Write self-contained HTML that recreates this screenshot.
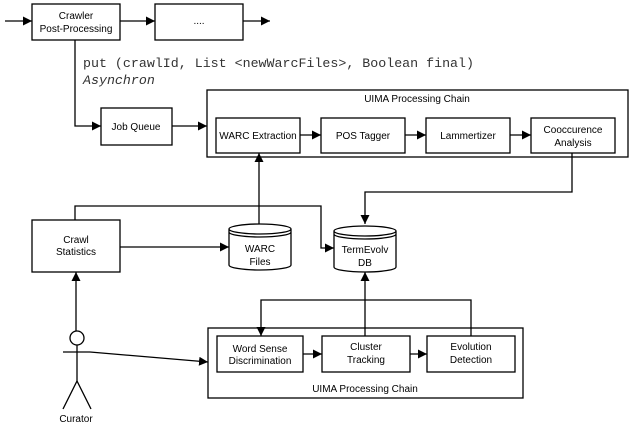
<!DOCTYPE html>
<html><head><meta charset="utf-8"><style>body{margin:0;background:#fff}svg{display:block}</style></head><body>
<svg width="630" height="430" viewBox="0 0 630 430" xmlns="http://www.w3.org/2000/svg" font-family="Liberation Sans, sans-serif" font-size="10" fill="none" stroke="#000">
<defs><marker id="a" viewBox="0 0 10 10" refX="10" refY="5" markerWidth="9" markerHeight="9" markerUnits="userSpaceOnUse" orient="auto"><path d="M0,0L10,5L0,10z" fill="#000" stroke="none"/></marker></defs>
<g stroke-width="1.3">
<rect x="32" y="4" width="88" height="36"/>
<rect x="155" y="4" width="88" height="36"/>
<line x1="5" y1="21" x2="32" y2="21" marker-end="url(#a)"/>
<line x1="120" y1="21" x2="155" y2="21" marker-end="url(#a)"/>
<line x1="243" y1="21" x2="270" y2="21" marker-end="url(#a)"/>
<polyline points="75,40 75,126 101,126" marker-end="url(#a)"/>
<rect x="101" y="108" width="71" height="37"/>
<line x1="172" y1="126" x2="207" y2="126" marker-end="url(#a)"/>
<rect x="207" y="90" width="421" height="67"/>
<rect x="216" y="118" width="84" height="35"/>
<rect x="321" y="118" width="84" height="35"/>
<rect x="426" y="118" width="84" height="35"/>
<rect x="531" y="118" width="84" height="35"/>
<line x1="300" y1="135" x2="321" y2="135" marker-end="url(#a)"/>
<line x1="405" y1="135" x2="426" y2="135" marker-end="url(#a)"/>
<line x1="510" y1="135" x2="531" y2="135" marker-end="url(#a)"/>
<polyline points="572,153 572,192 365,192 365,224" marker-end="url(#a)"/>
<rect x="32" y="220" width="88" height="52"/>
<polyline points="75,220 75,206 321,206 321,248 334,248" marker-end="url(#a)"/>
<line x1="120" y1="247" x2="229" y2="247" marker-end="url(#a)"/>
<line x1="259" y1="224" x2="259" y2="153" marker-end="url(#a)"/>
<path d="M229,229 v36 a31,5 0 0 0 62,0 v-36 a31,5 0 0 0 -62,0 a31,5 0 0 0 62,0 M229,232 a31,5 0 0 0 62,0"/>
<path d="M334,231 v36 a31,5 0 0 0 62,0 v-36 a31,5 0 0 0 -62,0 a31,5 0 0 0 62,0 M334,234 a31,5 0 0 0 62,0"/>
<line x1="365" y1="336" x2="365" y2="272" marker-end="url(#a)"/>
<polyline points="471,336 471,300 261,300 261,336" marker-end="url(#a)"/>
<rect x="208" y="328" width="315" height="70"/>
<rect x="217" y="336" width="86" height="36"/>
<rect x="322" y="336" width="88" height="36"/>
<rect x="427" y="336" width="88" height="36"/>
<line x1="303" y1="354" x2="322" y2="354" marker-end="url(#a)"/>
<line x1="410" y1="354" x2="427" y2="354" marker-end="url(#a)"/>
<line x1="76" y1="331" x2="76" y2="272" marker-end="url(#a)"/>
<circle cx="77" cy="338" r="7"/>
<line x1="77" y1="345" x2="77" y2="381"/>
<line x1="63" y1="352" x2="90" y2="352"/>
<line x1="77" y1="381" x2="63" y2="409"/><line x1="77" y1="381" x2="91" y2="409"/>
<line x1="90" y1="352" x2="208" y2="362" marker-end="url(#a)"/>
</g>
<g fill="#000" stroke="none" text-anchor="middle">
<text x="76" y="19">Crawler</text><text x="76" y="32">Post-Processing</text>
<text x="199" y="24">....</text>
<text x="136" y="130">Job Queue</text>
<text x="417" y="102">UIMA Processing Chain</text>
<text x="258" y="139">WARC Extraction</text>
<text x="363" y="139">POS Tagger</text>
<text x="468" y="139">Lammertizer</text>
<text x="573" y="133">Cooccurence</text><text x="573" y="146">Analysis</text>
<text x="76" y="243">Crawl</text><text x="76" y="255">Statistics</text>
<text x="260" y="252">WARC</text><text x="260" y="265">Files</text>
<text x="365" y="253">TermEvolv</text><text x="365" y="266">DB</text>
<text x="260" y="352">Word Sense</text><text x="260" y="364">Discrimination</text>
<text x="366" y="350">Cluster</text><text x="366" y="363">Tracking</text>
<text x="471" y="350">Evolution</text><text x="471" y="363">Detection</text>
<text x="365" y="392">UIMA Processing Chain</text>
<text x="76" y="422">Curator</text>
</g>
<g fill="#333" stroke="none" font-family="Liberation Mono, monospace" font-size="13.3">
<text x="83" y="67">put (crawlId, List &lt;newWarcFiles&gt;, Boolean final)</text>
<text x="83" y="84" font-style="italic">Asynchron</text>
</g>
</svg>
</body></html>
